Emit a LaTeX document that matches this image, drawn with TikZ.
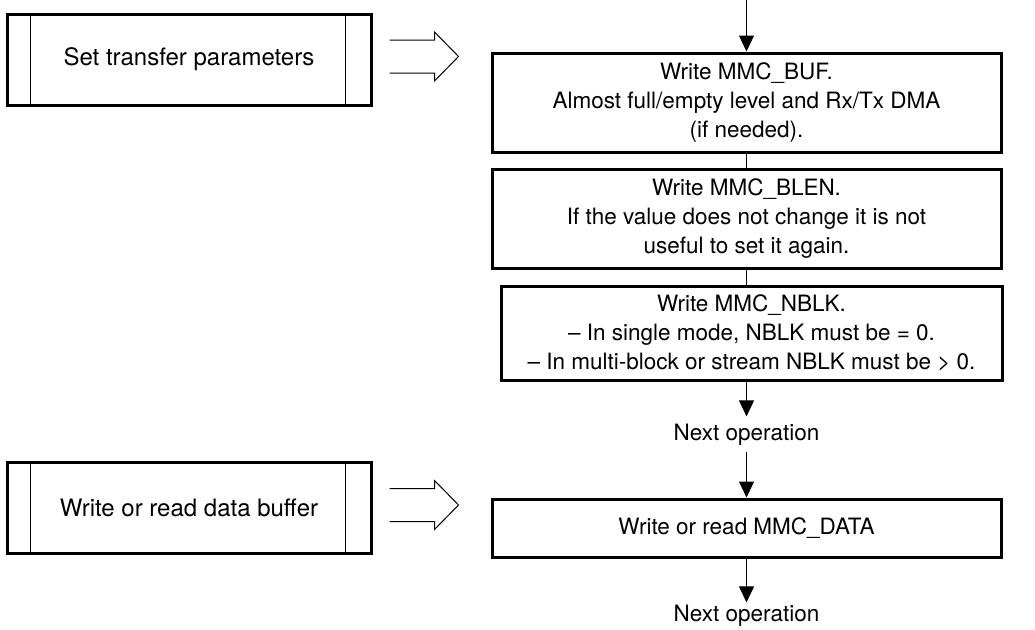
\documentclass[tikz,border=0pt]{standalone}
\usepackage{fontspec}
\setmainfont{TeX Gyre Heros}
\usetikzlibrary{arrows.meta,calc}

% hollow double-line arrow pointing right, placed after a given node
\newcommand\fatarrow[1]{%
  \draw[hollow] ($(#1.east)+(17,-19.5)$) -- ++(45,0) -- ++(0,-8) -- ++(24,24.5)
    -- ++(-24,24.5) -- ++(0,-8) -- ++(-45,0);}

\begin{document}
\begin{tikzpicture}[x=1pt,y=-1pt,
  font=\fontsize{22.5}{29}\selectfont,
  stepbox/.style={draw,line width=3pt,align=center,inner sep=0pt,
                  minimum width=509pt},
  subbox/.style={draw,line width=3pt,inner sep=0pt,minimum width=364pt,
                 minimum height=91pt,font=\fontsize{24}{29}\selectfont},
  rule/.style={line width=0.8pt},
  flow/.style={line width=1pt,-{Triangle[length=16pt,width=15pt]}},
  link/.style={line width=1pt},
  hollow/.style={line width=1pt,line join=miter},
]
\useasboundingbox (0,0) rectangle (1035,629);

% predefined-process boxes on the left
\node[subbox] (setp) at (189,59.5) {Set transfer parameters};
\node[subbox] (wrbuf) at (189,508) {Write or read data buffer};
\foreach \b in {setp,wrbuf}{
  \draw[rule] ([xshift=25pt]\b.north west) -- ([xshift=25pt]\b.south west);
  \draw[rule] ([xshift=-27pt]\b.north east) -- ([xshift=-27pt]\b.south east);
}
\fatarrow{setp}
\fatarrow{wrbuf}

% flow steps
\coordinate (top) at (746.5,0);
\node[stepbox,minimum height=99pt] (buf) at (746.5,102.5)
  {Write MMC\_BUF.\\Almost full/empty level and Rx/Tx DMA\\(if needed).};
\node[stepbox,minimum height=99pt] (blen) at (746.5,218.5)
  {Write MMC\_BLEN.\\If the value does not change it is not\\useful to set it again.};
\node[stepbox,minimum width=501pt,minimum height=94pt] (nblk) at (751.5,333)
  {Write MMC\_NBLK.\\– In single mode, NBLK must be = 0.\\– In multi-block or stream NBLK must be > 0.};
\node[anchor=base,inner ysep=7pt] (next1) at (746.5,440) {Next operation};
\node[stepbox,minimum height=58pt] (data) at (746.5,528) {Write or read MMC\_DATA};
\node[anchor=base,inner ysep=2pt] (next2) at (746.5,621) {Next operation};

% connectors
\draw[flow] (top) -- (buf.north);
\draw[link] (buf.south) -- (blen.north);
\draw[link] (blen.south) -- (blen.south |- nblk.north);
\draw[flow] (blen.south |- nblk.south) -- (next1.north);
\draw[flow] (next1.south) -- (data.north);
\draw[flow] (data.south) -- (next2.north);
\end{tikzpicture}
\end{document}
